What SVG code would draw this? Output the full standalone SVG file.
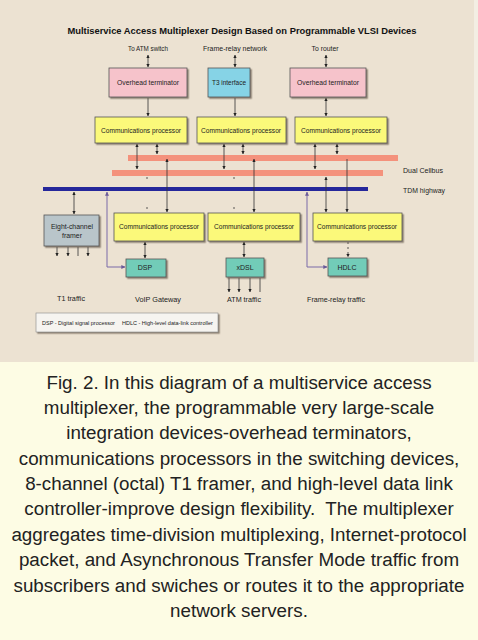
<svg xmlns="http://www.w3.org/2000/svg" width="478" height="640" viewBox="0 0 478 640">
<style>
.bg{fill:#ece2d2}
.box{stroke:#555;stroke-width:0.8;filter:url(#sh)}
.pink{fill:#f6c3cb}
.blue{fill:#86d3e6}
.yel{fill:#fbf97a}
.teal{fill:#72ccb8}
.gray{fill:#b9c5ca}
.t{font-family:"Liberation Sans",Arial,sans-serif;font-size:7px;fill:#222;text-anchor:middle}
.lbl{font-family:"Liberation Sans",Arial,sans-serif;font-size:7px;fill:#222}
.leg{font-family:"Liberation Sans",Arial,sans-serif;font-size:5.5px;fill:#222}
.cap{font-family:"Liberation Sans",Arial,sans-serif;font-size:18.8px;fill:#222;text-anchor:middle}
.c{stroke:#333;stroke-width:0.8;fill:none}
.p{stroke:#7a6aa8;stroke-width:1;fill:none}
</style>
<defs>
<filter id="sh" x="-10%" y="-10%" width="130%" height="140%">
<feDropShadow dx="1.5" dy="1.5" stdDeviation="0.6" flood-color="#6b5e50" flood-opacity="0.7"/>
</filter>
<marker id="a" viewBox="0 0 6 6" refX="5.5" refY="3" markerWidth="4" markerHeight="4" orient="auto-start-reverse">
<path d="M0,0 L6,3 L0,6 z" fill="#222"/>
</marker>
<marker id="ap" viewBox="0 0 6 6" refX="5.5" refY="3" markerWidth="4" markerHeight="4" orient="auto-start-reverse">
<path d="M0,0 L6,3 L0,6 z" fill="#6a5a98"/>
</marker>
</defs>
<rect x="0" y="0" width="478" height="640" fill="#fdfce4"/>
<rect class="bg" x="0" y="0" width="474" height="362"/>
<rect x="474" y="0" width="4" height="362" fill="#f3eee3"/>

<text x="242" y="34" font-family="Liberation Sans,Arial,sans-serif" font-weight="bold" font-size="9.5" fill="#111" text-anchor="middle" textLength="349" lengthAdjust="spacingAndGlyphs">Multiservice Access Multiplexer Design Based on Programmable VLSI Devices</text>

<g id="labels-top">
<text class="t" x="148" y="51" textLength="40" lengthAdjust="spacingAndGlyphs">To ATM switch</text>
<text class="t" x="235" y="51" textLength="64" lengthAdjust="spacingAndGlyphs">Frame-relay network</text>
<text class="t" x="325" y="51" textLength="27" lengthAdjust="spacingAndGlyphs">To router</text>
</g>

<g id="bars">
<rect x="128" y="155" width="270" height="6" fill="#f4927c"/>
<rect x="112" y="170" width="271" height="6" fill="#f4927c"/>
<rect x="43" y="187" width="325" height="4" fill="#25279b"/>
<text class="lbl" x="403" y="173" textLength="40" lengthAdjust="spacingAndGlyphs">Dual Cellbus</text>
<text class="lbl" x="403" y="193" textLength="42" lengthAdjust="spacingAndGlyphs">TDM highway</text>
</g>

<g id="connectors">
<line class="c" x1="148" y1="55" x2="148" y2="67" marker-start="url(#a)" marker-end="url(#a)"/>
<line class="c" x1="235" y1="55" x2="235" y2="67" marker-start="url(#a)" marker-end="url(#a)"/>
<line class="c" x1="326" y1="55" x2="326" y2="67" marker-start="url(#a)" marker-end="url(#a)"/>
<line class="c" x1="148" y1="98" x2="148" y2="116" marker-end="url(#a)"/>
<line class="c" x1="235" y1="98" x2="235" y2="116" marker-end="url(#a)"/>
<line class="c" x1="326" y1="98" x2="326" y2="116" marker-start="url(#a)" marker-end="url(#a)"/>
<line class="c" x1="137" y1="144" x2="137" y2="169" marker-start="url(#a)" marker-end="url(#a)"/>
<line class="c" x1="157" y1="144" x2="157" y2="154" marker-start="url(#a)" marker-end="url(#a)"/>
<line class="c" x1="167" y1="159" x2="167" y2="212" marker-start="url(#a)" marker-end="url(#a)"/>
<line class="c" x1="224" y1="144" x2="224" y2="169" marker-start="url(#a)" marker-end="url(#a)"/>
<line class="c" x1="243" y1="144" x2="243" y2="154" marker-start="url(#a)" marker-end="url(#a)"/>
<line class="c" x1="254" y1="159" x2="254" y2="212" marker-start="url(#a)" marker-end="url(#a)"/>
<line class="c" x1="315" y1="144" x2="315" y2="169" marker-start="url(#a)" marker-end="url(#a)"/>
<line class="c" x1="337" y1="144" x2="337" y2="154" marker-start="url(#a)" marker-end="url(#a)"/>
<line class="c" x1="326" y1="177" x2="326" y2="212" marker-start="url(#a)" marker-end="url(#a)"/>
<line class="c" x1="347" y1="159" x2="347" y2="212" stroke-width="0.6" marker-end="url(#a)"/>
<line class="c" x1="147" y1="177" x2="147" y2="179"/>
<line class="c" x1="147" y1="207" x2="147" y2="209"/>
<line class="c" x1="234" y1="177" x2="234" y2="179"/>
<line class="c" x1="234" y1="207" x2="234" y2="209"/>
<line class="c" x1="74" y1="192" x2="74" y2="214" marker-start="url(#a)" marker-end="url(#a)"/>
<polyline class="p" points="107,192 107,267 125,267" marker-start="url(#ap)" marker-end="url(#ap)"/>
<polyline class="p" points="307,192 307,267 327,267" marker-start="url(#ap)" marker-end="url(#ap)"/>
<line class="c" x1="145" y1="242" x2="145" y2="258" marker-start="url(#a)" marker-end="url(#a)"/>
<line class="c" x1="244" y1="242" x2="244" y2="257" marker-start="url(#a)" marker-end="url(#a)"/>
<line class="c" x1="348" y1="242" x2="348" y2="257" stroke-dasharray="2,3" marker-end="url(#a)"/>
<line class="c" x1="57" y1="247" x2="57" y2="256" marker-end="url(#a)"/>
<line class="c" x1="68" y1="247" x2="68" y2="256" marker-end="url(#a)"/>
<line class="c" x1="78" y1="247" x2="78" y2="256" stroke-width="0.5"/>
<line class="c" x1="88" y1="247" x2="88" y2="256" marker-end="url(#a)"/>
<line class="c" x1="229" y1="278" x2="229" y2="292" marker-end="url(#a)"/>
<line class="c" x1="239" y1="278" x2="239" y2="292" marker-end="url(#a)"/>
<line class="c" x1="250" y1="278" x2="250" y2="292" marker-end="url(#a)"/>
<line class="c" x1="260" y1="278" x2="260" y2="292" stroke-width="0.6"/>
</g>

<g id="oh1"><rect class="box pink" x="109" y="68" width="78" height="29"/><text class="t" x="148" y="85" textLength="62" lengthAdjust="spacingAndGlyphs">Overhead terminator</text></g>
<g id="t3"><rect class="box blue" x="208" y="68" width="42" height="29"/><text class="t" x="229" y="85" textLength="34" lengthAdjust="spacingAndGlyphs">T3 interface</text></g>
<g id="oh2"><rect class="box pink" x="290" y="68" width="76" height="29"/><text class="t" x="328" y="85" textLength="62" lengthAdjust="spacingAndGlyphs">Overhead terminator</text></g>

<g id="cp1"><rect class="box yel" x="95" y="117" width="92" height="26"/><text class="t" x="141" y="133" textLength="80" lengthAdjust="spacingAndGlyphs">Communications processor</text></g>
<g id="cp2"><rect class="box yel" x="197" y="117" width="89" height="26"/><text class="t" x="241" y="133" textLength="80" lengthAdjust="spacingAndGlyphs">Communications processor</text></g>
<g id="cp3"><rect class="box yel" x="295" y="117" width="92" height="26"/><text class="t" x="341" y="133" textLength="80" lengthAdjust="spacingAndGlyphs">Communications processor</text></g>

<g id="framer"><rect class="box gray" x="44" y="215" width="55" height="31"/><text class="t" x="72" y="229" textLength="42" lengthAdjust="spacingAndGlyphs">Eight-channel</text><text class="t" x="72" y="238" textLength="20" lengthAdjust="spacingAndGlyphs">framer</text></g>
<g id="cp4"><rect class="box yel" x="114" y="213" width="90" height="28"/><text class="t" x="159" y="229" textLength="80" lengthAdjust="spacingAndGlyphs">Communications processor</text></g>
<g id="cp5"><rect class="box yel" x="208" y="213" width="92" height="28"/><text class="t" x="254" y="229" textLength="80" lengthAdjust="spacingAndGlyphs">Communications processor</text></g>
<g id="cp6"><rect class="box yel" x="313" y="213" width="89" height="28"/><text class="t" x="357" y="229" textLength="80" lengthAdjust="spacingAndGlyphs">Communications processor</text></g>

<g id="dsp"><rect class="box teal" x="126" y="259" width="40" height="18"/><text class="t" x="145" y="270">DSP</text></g>
<g id="xdsl"><rect class="box teal" x="226" y="258" width="38" height="19"/><text class="t" x="245" y="270">xDSL</text></g>
<g id="hdlc"><rect class="box teal" x="328" y="258" width="39" height="18"/><text class="t" x="347" y="270">HDLC</text></g>

<g id="labels-bottom">
<text class="t" x="71" y="301" textLength="28" lengthAdjust="spacingAndGlyphs">T1 traffic</text>
<text class="t" x="158" y="302" textLength="46" lengthAdjust="spacingAndGlyphs">VoIP Gateway</text>
<text class="t" x="244" y="302" textLength="34" lengthAdjust="spacingAndGlyphs">ATM traffic</text>
<text class="t" x="336" y="302" textLength="58" lengthAdjust="spacingAndGlyphs">Frame-relay traffic</text>
</g>

<g id="legend"><rect x="36" y="313" width="182" height="19" fill="#f6f4f0" stroke="#888" stroke-width="0.6" filter="url(#sh)"/>
<text class="leg" x="42" y="325">DSP - Digital signal processor</text>
<text class="leg" x="122" y="325">HDLC - High-level data-link controller</text>
</g>

<g id="caption">
<text class="cap" x="239" y="389">Fig. 2. In this diagram of a multiservice access</text>
<text class="cap" x="239" y="414">multiplexer, the programmable very large-scale</text>
<text class="cap" x="239" y="439">integration devices-overhead terminators,</text>
<text class="cap" x="239" y="465">communications processors in the switching devices,</text>
<text class="cap" x="239" y="490">8-channel (octal) T1 framer, and high-level data link</text>
<text class="cap" x="239" y="515" xml:space="preserve">controller-improve design flexibility.  The multiplexer</text>
<text class="cap" x="239" y="541">aggregates time-division multiplexing, Internet-protocol</text>
<text class="cap" x="239" y="566">packet, and Asynchronous Transfer Mode traffic from</text>
<text class="cap" x="239" y="592">subscribers and swiches or routes it to the appropriate</text>
<text class="cap" x="239" y="617">network servers.</text>
</g>
</svg>
